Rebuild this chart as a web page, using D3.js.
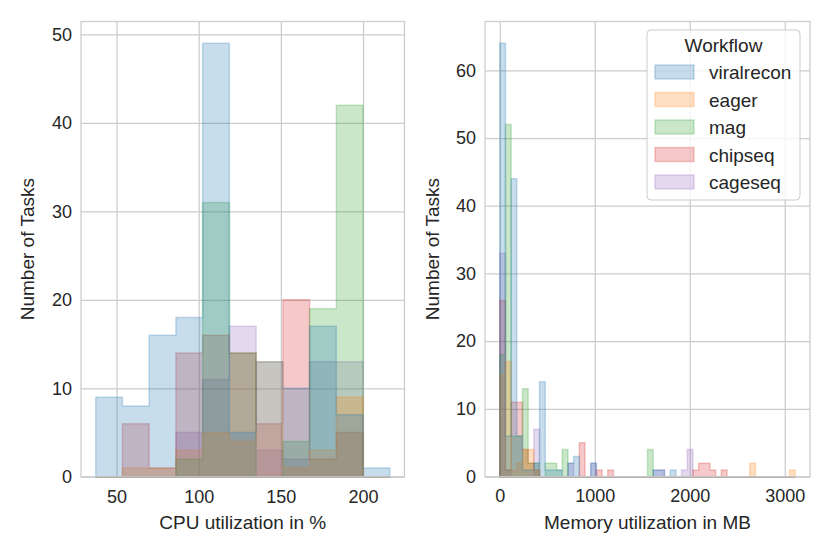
<html>
<script src='https://d3js.org/d3.v7.min.js'></script>
<style>
  body {margin:0; background:#fff;}
  text {font-family: "Liberation Sans", Arial, sans-serif; fill:#262626;}
</style>
<body onload='init()'>
<svg class="chart" width=830 height=554></svg>
<script>

// workflows in legend order, tab10 colours
var workflows = ["viralrecon", "eager", "mag", "chipseq", "cageseq"];
var colours = ["#1f77b4", "#ff7f0e", "#2ca02c", "#d62728", "#9467bd"];

// CPU utilization (%) - 11 shared bins
var cpuMin = 37.3, cpuMax = 216.3, cpuBins = 11;
var cpuViralrecon = [9, 8, 16, 18, 49, 5, 13, 10, 17, 7, 1];
var cpuEager      = [0, 1, 1, 3, 5, 4, 13, 1, 3, 9, 0];
var cpuMag        = [0, 0, 0, 2, 31, 14, 0, 4, 19, 42, 0];
var cpuChipseq    = [0, 6, 1, 14, 16, 14, 6, 20, 2, 5, 0];
var cpuCageseq    = [0, 0, 0, 5, 11, 17, 3, 2, 13, 13, 0];

// Memory utilization (MB) - 52 shared bins
var memMin = 0, memMax = 3110, memBins = 52;
var memViralrecon = [64, 6, 44, 6, 1, 1, 2, 14, 1, 1, 1, 0, 2,
                     3, 0, 0, 2, 0, 0, 0, 0, 0, 0, 0, 0, 0,
                     0, 1, 1, 0, 1, 0, 0, 0, 0, 0, 0, 0, 0,
                     0, 0, 0, 0, 0, 0, 0, 0, 0, 0, 0, 0, 0];
var memEager      = [15, 17, 1, 2, 4, 4, 1, 0, 0, 0, 0, 0, 0,
                     0, 0, 0, 0, 0, 0, 0, 0, 0, 0, 0, 0, 0,
                     0, 0, 0, 0, 0, 0, 0, 0, 0, 0, 0, 0, 0,
                     0, 0, 0, 0, 0, 2, 0, 0, 0, 0, 0, 0, 1];
var memMag        = [18, 52, 6, 6, 13, 2, 2, 0, 2, 2, 1, 4, 0,
                     0, 0, 0, 0, 0, 0, 0, 0, 0, 0, 0, 0, 0,
                     4, 0, 0, 0, 0, 0, 0, 0, 0, 0, 0, 0, 0,
                     0, 0, 0, 0, 0, 0, 0, 0, 0, 0, 0, 0, 0];
var memChipseq    = [26, 1, 11, 11, 4, 2, 1, 0, 0, 0, 0, 0, 0,
                     0, 5, 0, 0, 1, 0, 1, 0, 0, 0, 0, 0, 0,
                     0, 0, 0, 0, 0, 0, 0, 0, 1, 2, 2, 1, 0,
                     1, 0, 0, 0, 0, 0, 0, 0, 0, 0, 0, 0, 0];
var memCageseq    = [33, 1, 0, 0, 0, 0, 7, 0, 0, 0, 0, 0, 2,
                     0, 0, 0, 2, 0, 0, 0, 0, 0, 0, 0, 0, 0,
                     0, 1, 1, 0, 0, 0, 1, 4, 0, 0, 0, 0, 0,
                     0, 0, 0, 0, 0, 0, 0, 0, 0, 0, 0, 0, 0];

var cpuTicks = [50, 100, 150, 200];
var cpuCountTicks = [0, 10, 20, 30, 40, 50];
var memTicks = [0, 1000, 2000, 3000];
var memCountTicks = [0, 10, 20, 30, 40, 50, 60];

var svg;

function drawPanel(p) {
  var width = p.right - p.left, height = p.bottom - p.top;
  var pad = 0.05 * (p.max - p.min);
  var x = d3.scaleLinear().domain([p.min - pad, p.max + pad]).range([0, width]);
  var ymax = d3.max(p.series, function(s) { return d3.max(s); }) * 1.05;
  var y = d3.scaleLinear().domain([0, ymax]).range([height, 0]);
  var edges = d3.range(p.bins + 1).map(function(i) { return p.min + i * (p.max - p.min) / p.bins; });

  var g = svg.append("g").attr("transform", "translate(" + p.left + "," + p.top + ")");

  // grid
  g.append("g")
    .attr("transform", "translate(0," + height + ")")
    .call(d3.axisBottom(x).tickValues(p.xticks).tickSize(-height).tickFormat(d3.format("")))
    .call(function(a) {
      a.select(".domain").remove();
      a.selectAll("line").attr("stroke", "#cccccc").attr("stroke-width", 1.25);
      a.selectAll("text").attr("y", 13).attr("dy", "0.71em").style("font-size", "18px")
        .attr("fill", "#262626").attr("font-family", "Liberation Sans, Arial, sans-serif");
    });
  g.append("g")
    .call(d3.axisLeft(y).tickValues(p.yticks).tickSize(-width))
    .call(function(a) {
      a.select(".domain").remove();
      a.selectAll("line").attr("stroke", "#cccccc").attr("stroke-width", 1.25);
      a.selectAll("text").attr("x", -9).style("font-size", "18px")
        .attr("fill", "#262626").attr("font-family", "Liberation Sans, Arial, sans-serif");
    });

  // step histograms, drawn last workflow first so viralrecon sits on top
  var area = d3.area()
    .x(function(d) { return x(d[0]); })
    .y0(y(0))
    .y1(function(d) { return y(d[1]); });
  for (var k = p.series.length - 1; k >= 0; k--) {
    var pts = [];
    p.series[k].forEach(function(v, i) {
      pts.push([edges[i], v]);
      pts.push([edges[i + 1], v]);
    });
    g.append("path")
      .datum(pts)
      .attr("d", area)
      .attr("fill", colours[k]).attr("fill-opacity", 0.25)
      .attr("stroke", colours[k]).attr("stroke-opacity", 0.25)
      .attr("stroke-width", 1.5);
  }

  // frame
  g.append("rect")
    .attr("width", width).attr("height", height)
    .attr("fill", "none").attr("stroke", "#cccccc").attr("stroke-width", 1.25);

  // axis labels
  g.append("text")
    .attr("x", width / 2).attr("y", height + 52)
    .attr("text-anchor", "middle").style("font-size", "19px")
    .text(p.xlabel);
  g.append("text")
    .attr("transform", "translate(" + p.ylabelX + "," + height / 2 + ") rotate(-90)")
    .attr("text-anchor", "middle").style("font-size", "19px")
    .text("Number of Tasks");
}

function init() {
  svg = d3.select(".chart");

  drawPanel({left: 81, right: 404.5, top: 21.5, bottom: 476.8,
    min: cpuMin, max: cpuMax, bins: cpuBins,
    series: [cpuViralrecon, cpuEager, cpuMag, cpuChipseq, cpuCageseq],
    xticks: cpuTicks, yticks: cpuCountTicks,
    xlabel: "CPU utilization in %", ylabelX: -47});

  drawPanel({left: 485, right: 810, top: 21.5, bottom: 476.7,
    min: memMin, max: memMax, bins: memBins,
    series: [memViralrecon, memEager, memMag, memChipseq, memCageseq],
    xticks: memTicks, yticks: memCountTicks,
    xlabel: "Memory utilization in MB", ylabelX: -46});

  // legend
  var lg = svg.append("g").attr("transform", "translate(647,30)");
  lg.append("rect")
    .attr("width", 153).attr("height", 170).attr("rx", 4)
    .attr("fill", "#ffffff").attr("fill-opacity", 0.8)
    .attr("stroke", "#cccccc").attr("stroke-width", 1);
  lg.append("text")
    .attr("x", 76.5).attr("y", 22).attr("text-anchor", "middle")
    .style("font-size", "19px").text("Workflow");
  workflows.forEach(function(w, i) {
    var row = lg.append("g").attr("transform", "translate(8," + (35 + i * 27.5) + ")");
    row.append("rect")
      .attr("width", 39).attr("height", 14)
      .attr("fill", colours[i]).attr("fill-opacity", 0.25)
      .attr("stroke", colours[i]).attr("stroke-opacity", 0.25).attr("stroke-width", 1.5);
    row.append("text")
      .attr("x", 54).attr("y", 14).style("font-size", "19px").text(w);
  });
}
</script>
</body>
</html>
